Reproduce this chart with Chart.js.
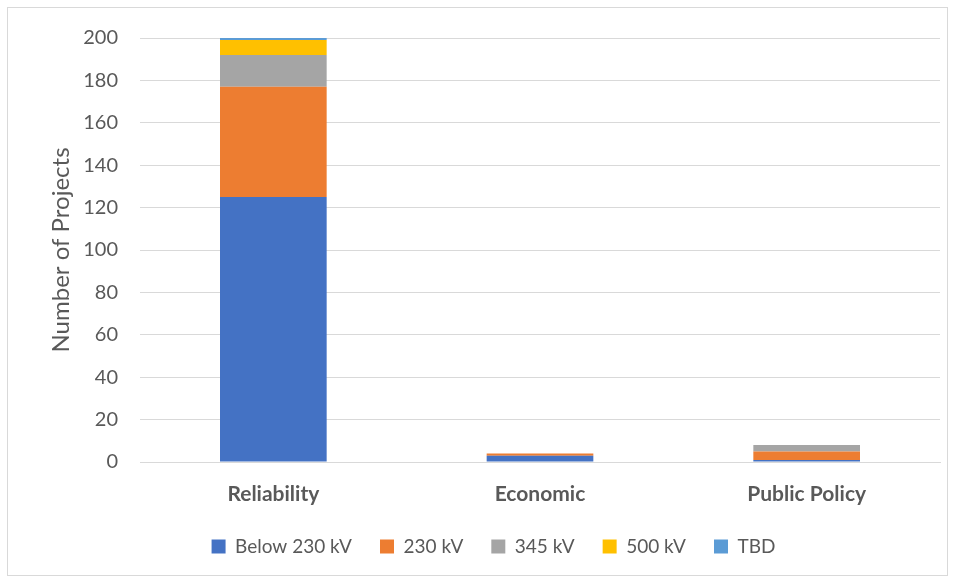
<!DOCTYPE html>
<html>
<head>
<meta charset="utf-8">
<script src="https://cdn.jsdelivr.net/npm/chart.js@4"></script>
<style>
  html, body { margin: 0; padding: 0; background: #fff; }
  #wrap { position: relative; width: 956px; height: 583px; }
  #frame { position: absolute; left: 7px; top: 7px; width: 941px; height: 569px; border: 1px solid #d9d9d9; box-sizing: border-box; pointer-events: none; }
</style>
</head>
<body>
<div id="wrap">
  <canvas id="c" width="956" height="583"></canvas>
  <div id="frame"></div>
</div>
<script>
// Project categories and counts by voltage class
const categories = ['Reliability', 'Economic', 'Public Policy'];
const seriesNames = ['Below 230 kV', '230 kV', '345 kV', '500 kV', 'TBD'];
const below230 = [125, 3, 1];
const kv230 = [52, 1, 4];
const kv345 = [15, 0, 3];
const kv500 = [7, 0, 0];
const tbd = [1, 0, 0];
const seriesColors = ['#4472C4', '#ED7D31', '#A5A5A5', '#FFC000', '#5B9BD5'];
const yTicks = [0, 20, 40, 60, 80, 100, 120, 140, 160, 180, 200];

const seriesValues = [below230, kv230, kv345, kv500, tbd];
const FONT = 'Lato, "Open Sans", sans-serif';
const TXT = '#595959';

new Chart(document.getElementById('c'), {
  type: 'bar',
  data: {
    labels: categories,
    datasets: seriesNames.map((name, i) => ({
      label: name,
      data: seriesValues[i],
      backgroundColor: seriesColors[i],
      borderWidth: 0,
      barPercentage: 0.8,
      categoryPercentage: 0.5
    }))
  },
  options: {
    responsive: false,
    animation: false,
    layout: { padding: { left: 47, right: 16, top: 38, bottom: 17 } },
    plugins: {
      tooltip: { enabled: false },
      legend: {
        position: 'bottom',
        labels: {
          color: TXT,
          font: { family: FONT, size: 19 },
          boxWidth: 14,
          boxHeight: 14,
          padding: 28
        }
      }
    },
    scales: {
      x: {
        stacked: true,
        grid: { display: false },
        border: { display: true, color: '#d9d9d9', width: 1 },
        ticks: {
          color: TXT,
          font: { family: FONT, size: 21, weight: 'bold' },
          padding: 12
        },
        afterFit(scale) { scale.height = 47; }
      },
      y: {
        stacked: true,
        min: 0,
        max: 200,
        afterBuildTicks(scale) { scale.ticks = yTicks.map(v => ({ value: v })); },
        grid: { color: '#d9d9d9', lineWidth: 1, drawTicks: false },
        border: { display: false },
        ticks: {
          color: TXT,
          font: { family: FONT, size: 20 },
          padding: 22
        },
        title: {
          display: true,
          text: 'Number of Projects',
          color: TXT,
          font: { family: FONT, size: 24 },
          padding: { top: 0, bottom: 0 }
        },
        afterFit(scale) { scale.width = 93; }
      }
    }
  }
});
</script>
</body>
</html>
